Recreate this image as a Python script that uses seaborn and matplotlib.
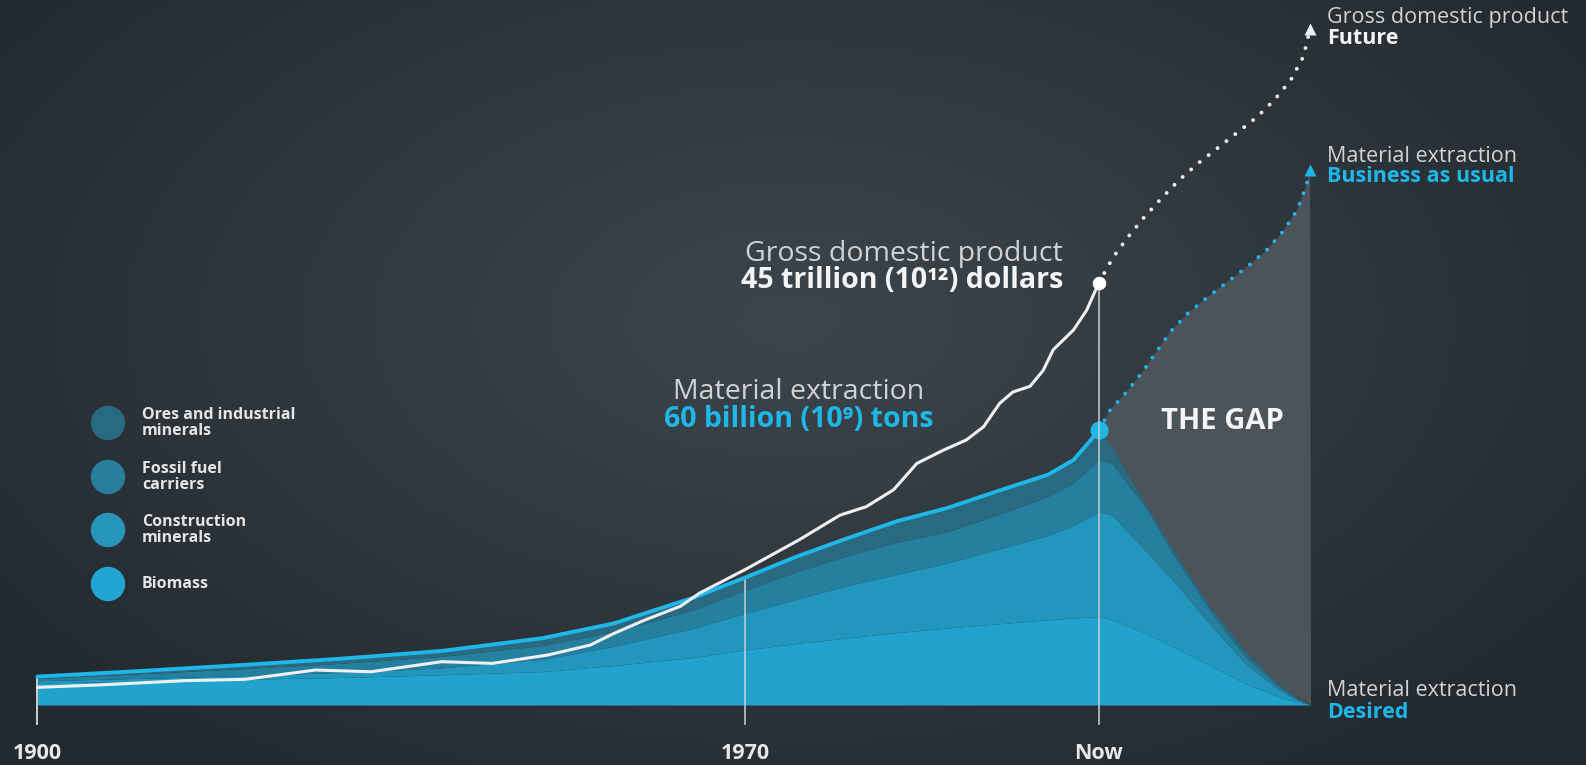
import numpy as np
import matplotlib
matplotlib.use("Agg")
import matplotlib.pyplot as plt
from matplotlib.patches import Ellipse
import seaborn as sns

# material extraction, billion tonnes per year (stack layers), history + desired path
years = [1900, 1910, 1920, 1930, 1940, 1950, 1957, 1965, 1970, 1975, 1980, 1985, 1990,
         1995, 2000, 2002.5, 2004, 2005,
         2006.3, 2009.6, 2012.9, 2016.2, 2019.5, 2022.8, 2024.5, 2026]
biomass = [4.8, 5.2, 5.6, 6.0, 6.6, 7.3, 8.6, 10.4, 12.0, 13.4, 14.6, 15.8, 16.8,
           17.7, 18.6, 19.0, 19.2, 19.3,
           18.6, 15.7, 12.1, 8.4, 4.7, 1.8, 0.8, 0]
construction = [0.5, 0.6, 0.8, 1.1, 1.5, 2.7, 4.2, 6.4, 8.0, 9.6, 11.4, 12.7, 14.2,
                16.3, 18.4, 20.2, 21.8, 22.9,
                22.9, 18.1, 13.7, 8.7, 4.4, 1.5, 0.4, 0]
fossil = [0.5, 1.0, 1.5, 2.0, 2.5, 3.0, 3.2, 4.0, 5.0, 6.0, 6.5, 7.0, 6.8,
          7.5, 8.5, 9.3, 10.5, 11.3,
          11.2, 9.5, 5.2, 2.9, 1.5, 0.7, 0.3, 0]
ores = [0.4, 0.6, 0.8, 1.0, 1.2, 1.6, 1.8, 2.7, 2.8, 3.3, 3.8, 4.6, 5.2,
        5.2, 4.8, 5.0, 5.8, 6.5,
        3.7, 0.7, 1.0, 1.0, 1.2, 0.6, 0.3, 0]
n_hist = 18  # points up to "Now" (2005)

# material extraction, business as usual (billion tonnes)
bau_years = [2005, 2006.1, 2007.7, 2009.3, 2010.7, 2012.1, 2013.8, 2015.8, 2017.7,
             2019.7, 2021.6, 2023.2, 2024.6, 2025.5, 2025.9]
bau = [60.0, 64.3, 68.2, 72.6, 77.1, 81.5, 85.5, 89.1, 92.3, 95.7, 99.3, 103.3,
       107.9, 113.2, 116.7]

# gross domestic product, trillion dollars
gdp_years = [1900, 1906, 1914.5, 1920.5, 1927.5, 1933, 1940, 1945, 1950.5, 1954.7, 1957,
             1960, 1963.6, 1965.5, 1970, 1975.4, 1979.4, 1982, 1984.7, 1987, 1989.6,
             1991.9, 1993.6, 1995.2, 1996.5, 1998.2, 1999.5, 2000.5, 2002.5, 2003.8, 2005]
gdp = [1.88, 2.13, 2.59, 2.73, 3.72, 3.54, 4.61, 4.43, 5.32, 6.38, 7.6,
       9.0, 10.5, 11.9, 14.4, 17.6, 20.2, 21.1, 22.9, 25.7, 27.1,
       28.2, 29.6, 32.1, 33.3, 33.9, 35.6, 37.8, 39.9, 42.0, 44.9]
gdp_future_years = [2005, 2006.4, 2007.9, 2009.5, 2011.2, 2012.9, 2014.8, 2016.7,
                    2018.7, 2020.6, 2022.4, 2024.0, 2025.2, 2025.5, 2025.9]
gdp_future = [44.9, 47.6, 49.8, 51.9, 53.9, 55.8, 57.6, 59.2, 60.9, 62.5, 64.4,
              66.5, 68.9, 70.1, 71.9]

layer_names = ["Biomass", "Construction\nminerals", "Fossil fuel\ncarriers",
               "Ores and industrial\nminerals"]
layer_colors = ["#22a3cd", "#2296bd", "#25809f", "#2a6a80"]
legend_colors = ["#22a5d3", "#2595b9", "#277f9c", "#2a6a80"]
tick_years = [1900, 1970, 2005]
tick_labels = ["1900", "1970", "Now"]

CYAN = "#1fb6e8"
W, H = 1586, 765

sns.set_theme(style="dark")
plt.rcParams["font.family"] = ["Open Sans", "DejaVu Sans"]

fig = plt.figure(figsize=(W / 100, H / 100), dpi=100)
ax = fig.add_axes([0, 0, 1, 1])
ax2 = ax.twinx()

X0, X1 = 1896.3, 2053.2
Y0, Y1 = -13.1, 153.9     # billion tonnes
G0, G1 = -6.38, 75.0      # trillion dollars

# dark radial background
gx, gy = np.meshgrid(np.linspace(0, W, 400), np.linspace(0, H, 200))
r = np.sqrt(((gx - 790) / 980) ** 2 + ((gy - 320) / 560) ** 2)
t = np.clip(r, 0, 1) ** 1.1
c_in = np.array([0x3c, 0x45, 0x4b]) / 255
c_out = np.array([0x22, 0x29, 0x2f]) / 255
img = c_in[None, None, :] * (1 - t[..., None]) + c_out[None, None, :] * t[..., None]
ax.imshow(img, extent=[X0, X1, Y0, Y1], origin="upper", aspect="auto", zorder=0)

total = [b + c + f + o for b, c, f, o in zip(biomass, construction, fossil, ores)]

# the gap between business-as-usual and the desired path
gap_x = bau_years + years[n_hist - 1:][::-1]
gap_y = bau + total[n_hist - 1:][::-1]
ax.fill(gap_x, gap_y, color="#4c5359", lw=0, zorder=1)

ax.stackplot(years, biomass, construction, fossil, ores, colors=layer_colors,
             lw=0, zorder=2)

# year markers
tick_bottom = -20 / 4.58
ax.vlines(1900, tick_bottom, total[0], color="#c9ced2", lw=1.4, zorder=3)
ax.vlines(1970, tick_bottom, total[years.index(1970)], color="#c9ced2", lw=1.4,
          alpha=0.8, zorder=3)

sns.lineplot(x=years[:n_hist], y=total[:n_hist], ax=ax, color=CYAN, lw=2.8,
             zorder=4, legend=False, solid_joinstyle="round")
ax.plot(bau_years, bau, color=CYAN, lw=2.8, linestyle=(0, (0.01, 2.9)),
        dash_capstyle="round", zorder=5)
ax.plot(bau_years[-1], bau[-1], marker="^", ms=9, color=CYAN, mec="none", zorder=5)
ax.scatter([years[n_hist - 1]], [total[n_hist - 1]], s=170, color=CYAN, lw=0, zorder=6)

ax2.vlines(2005, -20 / 9.4, gdp[-1], color="#c9ced2", lw=1.4, alpha=0.8, zorder=3)
sns.lineplot(x=gdp_years, y=gdp, ax=ax2, color="#eef0f1", lw=2.2, zorder=4,
             legend=False, solid_joinstyle="round")
ax2.plot(gdp_future_years, gdp_future, color="#eef0f1", lw=2.8,
         linestyle=(0, (0.01, 2.9)), dash_capstyle="round", zorder=5)
ax2.plot(gdp_future_years[-1], gdp_future[-1], marker="^", ms=9, color="#eef0f1",
         mec="none", zorder=5)
ax2.scatter([gdp_years[-1]], [gdp[-1]], s=95, color="white", lw=0, zorder=6)

for a, lim in ((ax, (Y0, Y1)), (ax2, (G0, G1))):
    a.set_xlim(X0, X1)
    a.set_ylim(*lim)
    a.set_axis_off()
ax2.patch.set_visible(False)


def px(x, y):
    return x / W, 1 - y / H


GREY = "#cfd3d6"
WHITE = "#f4f5f6"

for yr, lab in zip(tick_years, tick_labels):
    ax.text(yr, (705 - 754) / 4.58, lab, color="#e6e8ea", fontsize=15.5,
            fontweight="bold", ha="center", va="center")

fig.text(*px(1063, 254), "Gross domestic product", color=GREY, fontsize=20.5,
         ha="right", va="center")
fig.text(*px(1063, 281), "45 trillion (10¹²) dollars", color=WHITE, fontsize=20.5,
         fontweight="bold", ha="right", va="center")
fig.text(*px(799, 392), "Material extraction", color=GREY, fontsize=20.5,
         ha="center", va="center")
fig.text(*px(799, 419), "60 billion (10⁹) tons", color=CYAN, fontsize=20.5,
         fontweight="bold", ha="center", va="center")
fig.text(*px(1222, 421), "THE GAP", color=WHITE, fontsize=21, fontweight="bold",
         ha="center", va="center")

right = [(17, "Gross domestic product", GREY, "normal"),
         (38, "Future", WHITE, "bold"),
         (156, "Material extraction", GREY, "normal"),
         (177, "Business as usual", CYAN, "bold"),
         (691, "Material extraction", GREY, "normal"),
         (712, "Desired", CYAN, "bold")]
for yy, s, c, w in right:
    fig.text(*px(1327, yy), s, color=c, fontsize=15.5, fontweight=w,
             ha="left", va="center")

# legend
leg_y = [584, 530, 477, 423]
for yy, name, col in zip(leg_y, layer_names, legend_colors):
    fig.patches.append(Ellipse(px(108, yy), width=33 / W, height=33 / H, color=col,
                               transform=fig.transFigure, figure=fig))
    fig.text(*px(142, yy), name, color="#e3e6e8", fontsize=11.5, fontweight="bold",
             ha="left", va="center", linespacing=0.95)

fig.savefig("out.png", dpi=100)
